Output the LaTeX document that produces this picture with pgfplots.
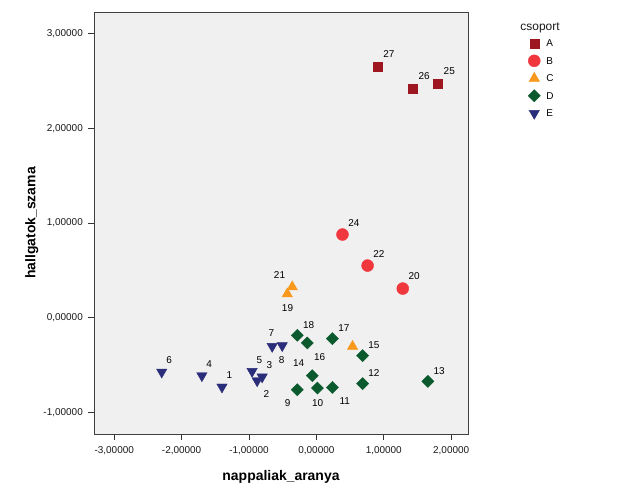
\documentclass[border=0pt]{standalone}
\usepackage{fontspec}
\setmainfont{Liberation Sans}
\usepackage{pgfplots}
\usepackage{pgfplotstable}
\pgfplotsset{compat=1.18}
\definecolor{cA}{RGB}{158,22,32}
\definecolor{cB}{RGB}{240,55,62}
\definecolor{cC}{RGB}{248,152,29}
\definecolor{cD}{RGB}{10,90,45}
\definecolor{cE}{RGB}{42,45,122}
\definecolor{bg}{RGB}{240,240,240}

\pgfplotstableread{
x y
0.909 2.653
1.431 2.423
1.803 2.473
}\grpA
\pgfplotstableread{
x y
0.387 0.878
0.760 0.550
1.282 0.307
}\grpB
\pgfplotstableread{
x y
-0.358 0.325
-0.432 0.251
0.537 -0.304
}\grpC
\pgfplotstableread{
x y
-0.283 -0.187
-0.134 -0.268
0.238 -0.222
0.686 -0.402
-0.060 -0.614
-0.283 -0.762
0.015 -0.744
0.238 -0.738
0.686 -0.698
1.654 -0.674
}\grpD
\pgfplotstableread{
x y
-2.295 -0.575
-1.699 -0.614
-1.401 -0.733
-0.954 -0.568
-0.879 -0.667
-0.805 -0.627
-0.656 -0.304
-0.507 -0.296
}\grpE
\pgfplotstableread{
x y lab
1.077 2.783 27
1.599 2.550 26
1.972 2.603 25
0.556 1.005 24
0.928 0.677 22
1.450 0.444 20
-0.547 0.455 21
-0.428 0.106 19
-0.115 -0.074 18
0.407 -0.106 17
0.854 -0.286 15
0.049 -0.413 16
-0.264 -0.476 14
0.854 -0.582 12
1.823 -0.561 13
-0.428 -0.899 9
0.019 -0.899 10
0.422 -0.878 11
-0.666 -0.159 7
-0.517 -0.444 8
-0.696 -0.497 3
-0.741 -0.804 2
-0.845 -0.444 5
-1.292 -0.603 1
-1.590 -0.487 4
-2.186 -0.444 6
}\labs

\begin{document}
\begin{tikzpicture}
\useasboundingbox (0,0) rectangle (640bp,500bp);
\begin{axis}[
  at={(94bp,66bp)}, anchor=south west,
  scale only axis, width=374bp, height=422bp,
  xmin=-3.30, xmax=2.25, ymin=-1.23, ymax=3.23,
  axis background/.style={fill=bg},
  axis line style={draw=black!75, line width=0.8bp},
  xtick={-3,-2,-1,0,1,2}, ytick={-1,0,1,2,3},
  tick align=outside, major tick length=6bp,
  xtick pos=bottom, ytick pos=left,
  tick style={draw=black!80, line width=0.8bp},
  minor tick num=0,
  /pgf/number format/.cd, assume math mode=true, fixed, fixed zerofill, precision=5, use comma, 1000 sep={},
  /pgfplots/.cd,
  tick label style={font=\fontsize{10}{12}\selectfont, text=black!90},
  xticklabel style={inner sep=0pt, yshift=-6bp},
  yticklabel style={inner sep=0pt, xshift=-5bp},
  xlabel={nappaliak\_aranya}, ylabel={hallgatok\_szama},
  label style={font=\fontsize{14}{16}\selectfont\bfseries},
  xlabel style={at={(axis description cs:0.5,-0.102)}, anchor=center},
  ylabel style={at={(axis description cs:-0.166,0.5)}, anchor=center},
  legend style={at={(axis description cs:1.1604,0.947)}, anchor=north west,
     draw=none, fill=none, inner sep=0pt, row sep=0pt, column sep=6bp,
     font=\fontsize{10}{12}\selectfont,
     nodes={inner sep=0pt, text height=12.35bp, text depth=5.15bp}},
  legend cell align=left,
  legend image code/.code={\draw[#1, only marks] plot coordinates {(0bp,0bp)};},
  clip=false,
]
\addplot[only marks, mark=square*, mark size=4.5bp, color=cA] table {\grpA};
\addlegendentry{A}
\addplot[only marks, mark=*, mark size=6bp, color=cB] table {\grpB};
\addlegendentry{B}
\addplot[only marks, mark=triangle*, mark size=6bp, color=cC] table {\grpC};
\addlegendentry{C}
\addplot[only marks, mark=square*, mark size=4.3bp, mark options={rotate=45}, color=cD] table {\grpD};
\addlegendentry{D}
\addplot[only marks, mark=triangle*, mark size=6bp, mark options={rotate=180}, color=cE] table {\grpE};
\addlegendentry{E}
\addplot[forget plot, draw=none, mark=none, nodes near coords, point meta=explicit symbolic,
  every node near coord/.style={anchor=center, inner sep=0pt, text=black, font=\fontsize{10}{12}\selectfont}]
  table[meta=lab] {\labs};
\node[font=\fontsize{12}{14}\selectfont, text=black!90] at (axis description cs:1.1925,0.962) {csoport};
\end{axis}
\end{tikzpicture}
\end{document}
